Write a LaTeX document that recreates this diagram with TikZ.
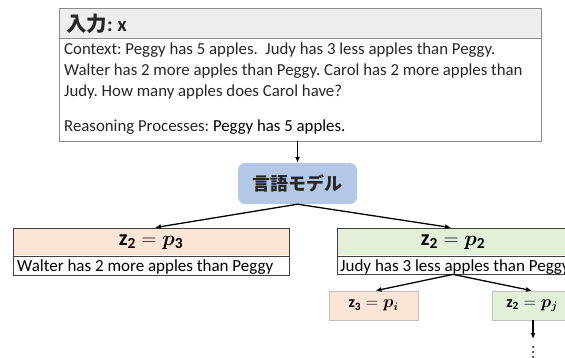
\documentclass[tikz,border=0pt]{standalone}
\usepackage{fontspec}
\usepackage{amsmath}
\setmainfont{Carlito}
\newfontfamily\jpfont{Noto Sans CJK JP}
\usetikzlibrary{arrows.meta}
\DeclareMathAlphabet{\mathbi}{OML}{cmm}{b}{it}
\frenchspacing

\definecolor{headgray}{HTML}{EEEEEE}
\definecolor{framegray}{HTML}{8C8C8C}
\definecolor{modelblue}{HTML}{B4C7E7}
\definecolor{peach}{HTML}{FBE5D6}
\definecolor{lightgreen}{HTML}{E2F0D9}
\definecolor{bodytext}{HTML}{262626}

\newcommand{\choice}[2]{$\mathbf{z}_{\mathbf{#1}}\mathrel{\mathbf{=}}\mathbi{p}_{#2}$}

\tikzset{
  flow/.style={line width=1.3pt, -{Latex[length=6pt,width=5pt]}},
  choicebox/.style={draw=black!75, line width=0.8pt},
  smallbox/.style={draw=black!25, line width=0.6pt, minimum height=29pt, inner sep=0pt, font=\fontsize{16}{19}\selectfont},
  bodyline/.style={anchor=base west, inner sep=0pt, font=\fontsize{16.8}{20}\selectfont, text=bodytext},
  choiceline/.style={anchor=base west, inner sep=0pt, font=\fontsize{17}{20}\selectfont, text=black},
  mathlabel/.style={inner sep=0pt, font=\fontsize{22}{26}\selectfont},
}

\begin{document}
\begin{tikzpicture}[x=1pt, y=-1pt]
\useasboundingbox (0,0) rectangle (565,358);
\clip (0,0) rectangle (565,358);

% input panel
\fill[headgray] (59,8) rectangle (541,38);
\draw[framegray, line width=0.8pt] (59,38) -- (541,38);
\node[draw=framegray, line width=0.8pt, minimum width=482pt, minimum height=133pt, inner sep=0pt] (input) at (300,74.5) {};
\node[anchor=base west, inner sep=0pt, font=\fontsize{20.5}{24}\selectfont\bfseries, text=black!85] (title) at (66,31.5) {{\jpfont 入力}: x};
\node[bodyline] (ctx1) at (64,55) {Context: Peggy has 5 apples.\ \ Judy has 3 less apples than Peggy.};
\node[bodyline] (ctx2) at (64,76) {Walter has 2 more apples than Peggy. Carol has 2 more apples than};
\node[bodyline] (ctx3) at (64,97) {Judy. How many apples does Carol have?};
\node[bodyline] (reason) at (64,132) {Reasoning Processes: \textcolor{black}{Peggy has 5 apples.}};

% language model
\node[fill=modelblue, rounded corners=7pt, minimum width=119pt, minimum height=41pt, inner sep=0pt,
      font=\jpfont\bfseries\fontsize{18}{22}\selectfont, text=black!85] (model) at (297.5,183.5) {言語モデル};

% first level of choices
\fill[peach] (13,228) rectangle (289,255);
\node[choicebox, minimum width=276pt, minimum height=47pt, inner sep=0pt] (leftbox) at (151,251.5) {};
\draw[black!75, line width=0.8pt] (13,256) -- (289,256);
\node[mathlabel] (leftmath) at (151,242) {\choice{2}{\mathbf{3}}};
\node[choiceline] (lefttext) at (17,271) {Walter has 2 more apples than Peggy};

\fill[lightgreen] (337,228) rectangle (569,255);
\node[choicebox, minimum width=232pt, minimum height=46pt, inner sep=0pt] (rightbox) at (453,251) {};
\draw[black!75, line width=0.8pt] (337,256) -- (569,256);
\node[mathlabel] (rightmath) at (453,242) {\choice{2}{\mathbf{2}}};
\node[choiceline] (righttext) at (340,271) {Judy has 3 less apples than Peggy};

% second level of choices
\node[smallbox, fill=peach, minimum width=89pt] (subleft) at (373.5,305.5) {\choice{3}{\mathbi{i}}};
\node[smallbox, fill=lightgreen, minimum width=80pt] (subright) at (532,305.5) {\choice{2}{\mathbi{j}}};

% continuation dots below the last choice
\coordinate (more) at (533,339);
\foreach \dy in {8,13,18}
  \fill ([yshift=-\dy pt]more) circle (1pt);

% connectors
\draw[flow] (input.south -| model) -- (model.north);
\draw[flow] (model.south) -- ([xshift=4pt]leftbox.north);
\draw[flow] (model.south) -- ([xshift=-2pt]rightbox.north);
\draw[flow] (rightbox.south) -- ([xshift=2pt]subleft.north);
\draw[flow] (rightbox.south) -- (subright.north);
\draw[flow] (subright.south -| more) -- (more);
\end{tikzpicture}
\end{document}
